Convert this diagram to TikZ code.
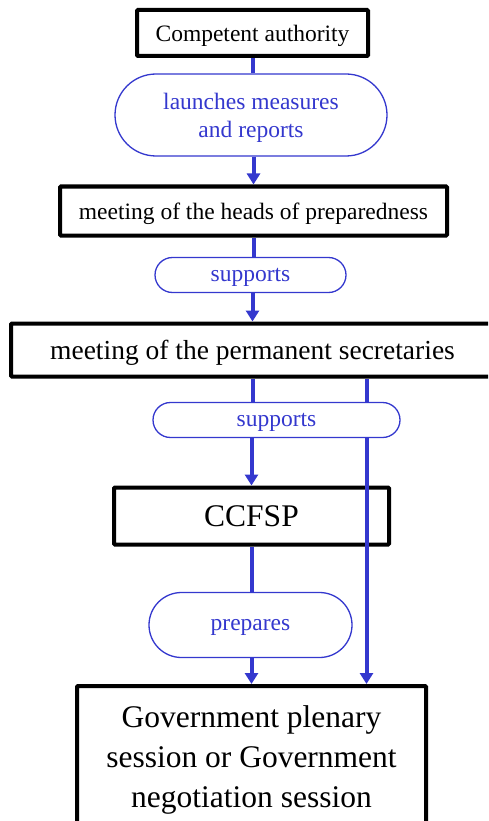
\documentclass[tikz,border=0pt]{standalone}
\usepackage{fontspec}
\setmainfont{Liberation Serif}
\usetikzlibrary{shapes.misc,arrows.meta}
\definecolor{linkblue}{RGB}{52,56,206}
\newcommand{\txtmid}{\fontsize{23.5}{28}\selectfont}
\newcommand{\txtbig}{\fontsize{27.5}{33}\selectfont}
\newcommand{\txthuge}{\fontsize{31.5}{40}\selectfont}

\begin{document}
\begin{tikzpicture}[x=1pt,y=-1pt,
    body/.style={draw=black,line width=4pt,fill=white,inner sep=0pt,align=center,rounded corners=1pt,text depth=0pt},
    act/.style={rounded rectangle,draw=linkblue,line width=1.3pt,fill=white,text=linkblue,inner sep=0pt,align=center,font=\txtmid,text depth=0pt},
    link/.style={draw=linkblue,line width=4pt},
    arr/.style={link,-{Triangle[width=13pt,length=11pt]}}]
    \useasboundingbox (0,0) rectangle (488,821);
    \clip (0,0) rectangle (488,821);
    % boxes
    \node[body,font=\txtmid,minimum width=231pt,minimum height=46pt] (auth) at (252.5,33) {Competent authority};
    \node[body,font=\txtmid,minimum width=387pt,minimum height=49pt] (heads) at (253.5,211) {meeting of the heads of preparedness};
    \node[body,font=\txtbig,minimum width=483pt,minimum height=53pt] (perm) at (252.5,350) {meeting of the permanent secretaries};
    \node[body,font=\txthuge,minimum width=275pt,minimum height=57pt] (ccfsp) at (251.5,516) {CCFSP};
    \node[body,font=\txthuge,minimum width=349pt,minimum height=142pt] (govt) at (251.5,757) {Government plenary\\ session or Government\\ negotiation session};
    % long line past the CCFSP
    \draw[arr] ([xshift=114pt]perm.south) -- ([xshift=114pt]perm.south |- govt.north);
    % action labels
    \node[act,minimum width=272pt,minimum height=82pt] (launch) at (251,115) {launches measures\\ and reports};
    \node[act,minimum width=191pt,minimum height=35pt] (sup1) at (250.5,275) {supports};
    \node[act,minimum width=247pt,minimum height=35pt] (sup2) at (276.5,420) {supports};
    \node[act,minimum width=203pt,minimum height=65pt] (prep) at (250.5,625) {prepares};
    % connectors
    \draw[link] (auth.south) -- (auth.south |- launch.north);
    \draw[arr] (launch.south -| heads.north) -- (heads.north);
    \draw[link] (heads.south) -- (heads.south |- sup1.north);
    \draw[arr] (sup1.south -| perm.north) -- (perm.north);
    \draw[link] (perm.south) -- (perm.south |- sup2.north);
    \draw[arr] (sup2.south -| ccfsp.north) -- (ccfsp.north);
    \draw[link] (ccfsp.south) -- (ccfsp.south |- prep.north);
    \draw[arr] (prep.south -| govt.north) -- (govt.north);
\end{tikzpicture}
\end{document}
